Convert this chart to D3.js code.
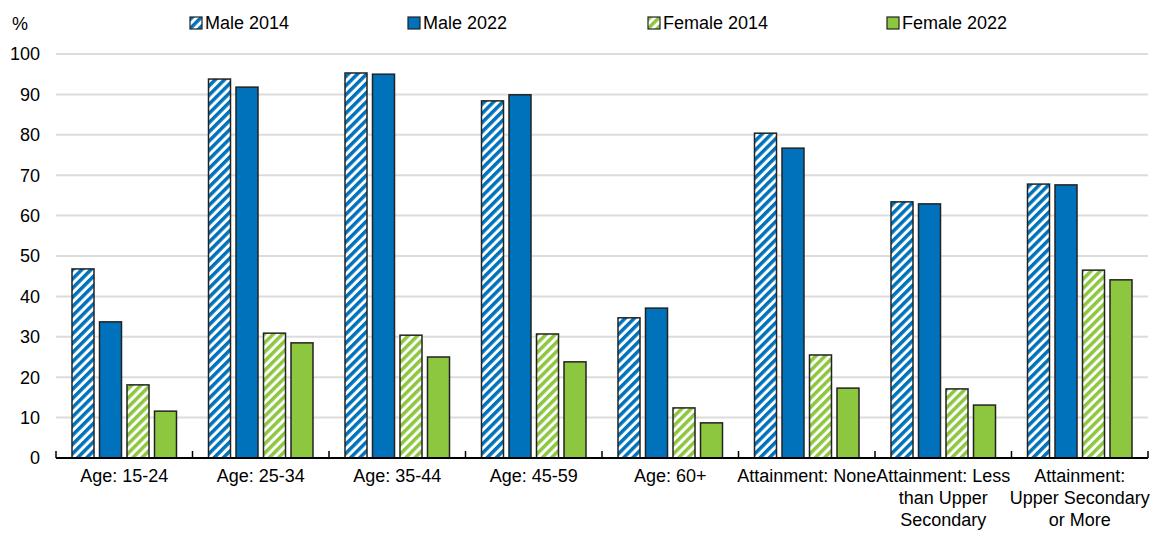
<!DOCTYPE html>
<html>
<head>
<meta charset="utf-8">
<script src="https://cdn.jsdelivr.net/npm/d3@7"></script>
<style>
  body { margin: 0; background: #fff; }
  text { font-family: "Liberation Sans", Arial, sans-serif; fill: #000; }
</style>
</head>
<body>
<svg id="chart" width="1151" height="533"></svg>
<script>
// categories and values
var categories = ["Age: 15-24", "Age: 25-34", "Age: 35-44", "Age: 45-59", "Age: 60+",
                  "Attainment: None", "Attainment: Less than Upper Secondary", "Attainment: Upper Secondary or More"];
var categoryLines = [["Age: 15-24"], ["Age: 25-34"], ["Age: 35-44"], ["Age: 45-59"], ["Age: 60+"],
                     ["Attainment: None"], ["Attainment: Less", "than Upper", "Secondary"],
                     ["Attainment:", "Upper Secondary", "or More"]];
var seriesNames = ["Male 2014", "Male 2022", "Female 2014", "Female 2022"];
var male2014   = [46.8, 93.8, 95.3, 88.4, 34.7, 80.4, 63.4, 67.8];
var male2022   = [33.7, 91.8, 95.0, 89.9, 37.1, 76.7, 62.9, 67.6];
var female2014 = [18.1, 30.9, 30.4, 30.7, 12.4, 25.5, 17.1, 46.5];
var female2022 = [11.6, 28.5, 25.0, 23.8,  8.7, 17.3, 13.1, 44.1];
var yTicks = [0, 10, 20, 30, 40, 50, 60, 70, 80, 90, 100];

var blue = "#0072bc", green = "#8dc63f";
var series = [
  {name: seriesNames[0], values: male2014, fill: "url(#hatchBlue)"},
  {name: seriesNames[1], values: male2022, fill: blue},
  {name: seriesNames[2], values: female2014, fill: "url(#hatchGreen)"},
  {name: seriesNames[3], values: female2022, fill: green}
];

var margin = {top: 54, right: 3, bottom: 75, left: 56},
    width = 1151 - margin.left - margin.right,
    height = 533 - margin.top - margin.bottom;

var svg = d3.select("#chart");

// diagonal stripe patterns
var defs = svg.append("defs");
function hatch(id, color) {
  var p = defs.append("pattern")
    .attr("id", id)
    .attr("patternUnits", "userSpaceOnUse")
    .attr("width", 6.5).attr("height", 6.5)
    .attr("patternTransform", "rotate(45)");
  p.append("rect").attr("width", 6.5).attr("height", 6.5).attr("fill", "#fff");
  p.append("rect").attr("width", 3.5).attr("height", 6.5).attr("fill", color);
}
hatch("hatchBlue", blue);
hatch("hatchGreen", green);

var g = svg.append("g")
  .attr("transform", "translate(" + margin.left + "," + margin.top + ")");

var x0 = d3.scaleBand().domain(categories).range([0, width]).paddingInner(0).paddingOuter(0);
var x1 = d3.scaleBand().domain(seriesNames).range([16, x0.bandwidth() - 16]).paddingInner(0.2);
var y = d3.scaleLinear().domain([0, 100]).range([height, 0]);

// gridlines
g.selectAll(".grid").data(yTicks.filter(function(d) { return d > 0; }))
  .enter().append("line")
  .attr("x1", 0).attr("x2", width)
  .attr("y1", function(d) { return y(d); }).attr("y2", function(d) { return y(d); })
  .attr("stroke", "#dcdcdc").attr("stroke-width", 2);

// y labels
g.selectAll(".ylab").data(yTicks).enter().append("text")
  .attr("x", -16).attr("y", function(d) { return y(d); })
  .attr("dy", "0.35em").attr("text-anchor", "end")
  .style("font-size", "18px")
  .text(function(d) { return d; });

svg.append("text").attr("x", 12).attr("y", 30).style("font-size", "18px").text("%");

// bars
var groups = g.selectAll(".grp").data(categories).enter().append("g")
  .attr("transform", function(d) { return "translate(" + x0(d) + ",0)"; });

groups.selectAll("rect")
  .data(function(d, i) { return series.map(function(s) { return {s: s, v: s.values[i]}; }); })
  .enter().append("rect")
  .attr("x", function(d) { return x1(d.s.name); })
  .attr("width", x1.bandwidth())
  .attr("y", function(d) { return y(d.v); })
  .attr("height", function(d) { return height - y(d.v); })
  .attr("fill", function(d) { return d.s.fill; })
  .attr("stroke", "#222").attr("stroke-width", 1.5);

// x axis line and ticks at group boundaries
g.append("line").attr("x1", 0).attr("x2", width).attr("y1", height).attr("y2", height)
  .attr("stroke", "#000").attr("stroke-width", 2);
var bounds = categories.map(function(c) { return x0(c); }).concat([width]);
g.selectAll(".tick").data(bounds).enter().append("line")
  .attr("x1", function(d) { return d; }).attr("x2", function(d) { return d; })
  .attr("y1", height).attr("y2", height - 7)
  .attr("stroke", "#000").attr("stroke-width", 1.5);

// x labels
groups.each(function(d, i) {
  var t = d3.select(this).append("text")
    .attr("x", x0.bandwidth() / 2).attr("y", height + 24)
    .attr("text-anchor", "middle").style("font-size", "18px");
  categoryLines[i].forEach(function(line, k) {
    t.append("tspan").attr("x", x0.bandwidth() / 2).attr("dy", k === 0 ? 0 : 22).text(line);
  });
});

// legend
var legendX = [190, 408, 648, 887];
var legend = svg.selectAll(".leg").data(series).enter().append("g")
  .attr("transform", function(d, i) { return "translate(" + legendX[i] + ",17)"; });
legend.append("rect").attr("width", 12).attr("height", 12)
  .attr("fill", function(d) { return d.fill; })
  .attr("stroke", "#222").attr("stroke-width", 1.2);
legend.append("text").attr("x", 15).attr("y", 6).attr("dy", "0.35em")
  .style("font-size", "18px").text(function(d) { return d.name; });
</script>
</body>
</html>
